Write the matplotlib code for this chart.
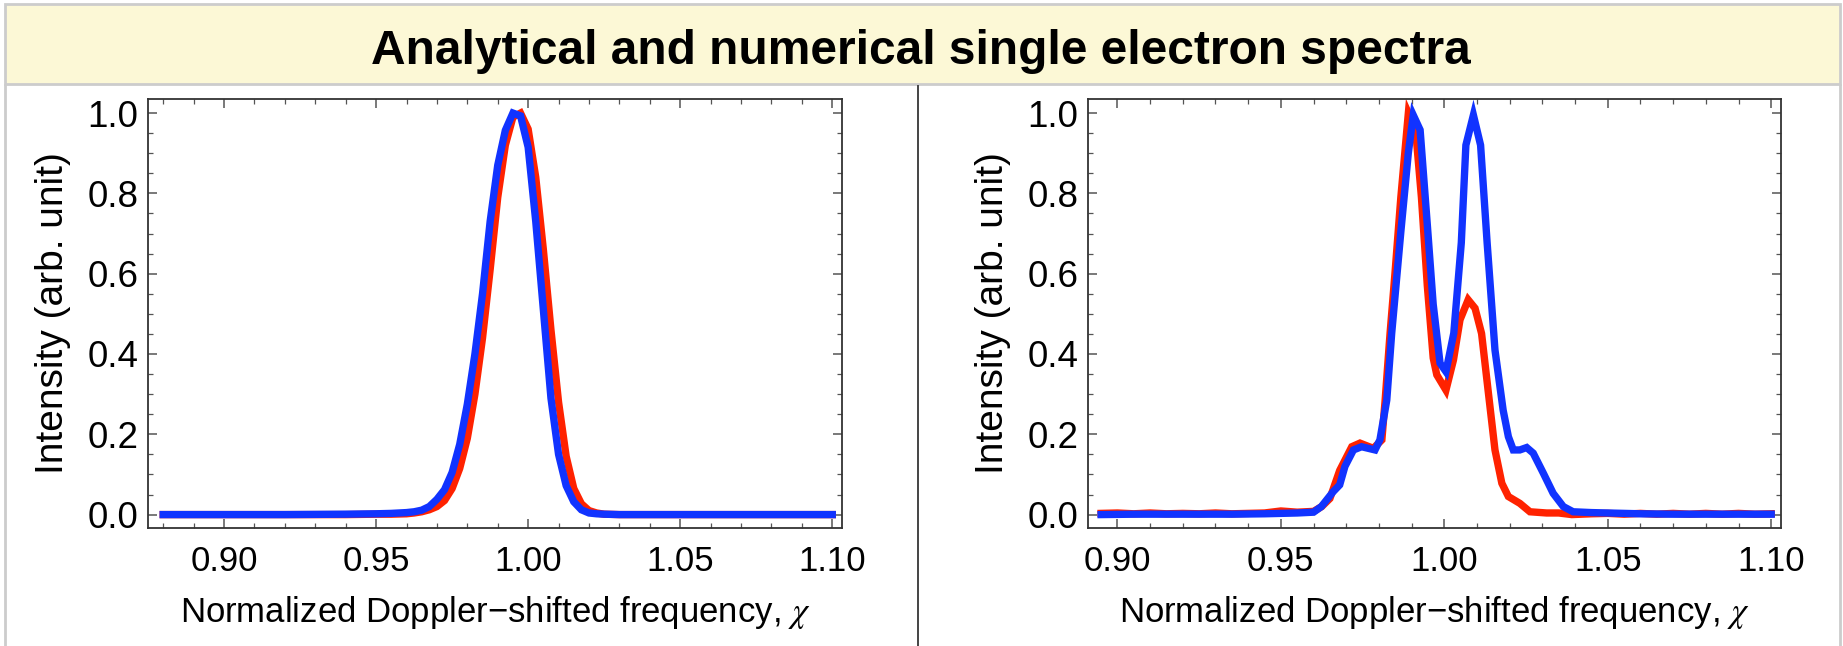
import numpy as np
import matplotlib
matplotlib.use("Agg")
import matplotlib.pyplot as plt
from matplotlib.patches import Rectangle
from matplotlib.lines import Line2D
from matplotlib.ticker import MultipleLocator, FormatStrFormatter

plt.rcParams['font.family'] = ['Liberation Sans', 'DejaVu Sans']
plt.rcParams['mathtext.fontset'] = 'stix'

# ---- left panel: single peak ----
left_x = [0.88, 0.90, 0.92, 0.94, 0.95, 0.955, 0.96, 0.9625, 0.965, 0.9675,
          0.97, 0.9725, 0.975, 0.9775, 0.98, 0.9825, 0.985, 0.9875, 0.99,
          0.9925, 0.995, 0.9975, 1.0, 1.0025, 1.005, 1.0075, 1.01, 1.0125,
          1.015, 1.0175, 1.02, 1.0225, 1.025, 1.03, 1.05, 1.07, 1.10]
left_red = [0.0, 0.0, 0.0, 0.0, 0.001, 0.001, 0.002, 0.004, 0.007, 0.012,
            0.02, 0.035, 0.065, 0.115, 0.19, 0.3, 0.44, 0.61, 0.79,
            0.92, 0.99, 1.0, 0.96, 0.84, 0.66, 0.46, 0.28, 0.145,
            0.065, 0.027, 0.01, 0.004, 0.001, 0.0, 0.0, 0.0, 0.0]
left_blue = [0.0, 0.0, 0.0, 0.001, 0.002, 0.003, 0.005, 0.007, 0.011, 0.02,
             0.038, 0.062, 0.105, 0.175, 0.275, 0.40, 0.55, 0.73, 0.87,
             0.957, 1.0, 0.993, 0.915, 0.73, 0.51, 0.29, 0.15, 0.072,
             0.032, 0.012, 0.004, 0.002, 0.001, 0.0, 0.0, 0.0, 0.0]

# ---- right panel: double peak ----
right_red_x = [0.895, 0.900, 0.905, 0.910, 0.915, 0.920, 0.925, 0.930, 0.935,
               0.940, 0.945, 0.950, 0.955, 0.960, 0.9625, 0.965, 0.968,
               0.9717, 0.9742, 0.9783, 0.9809, 0.9819, 0.9834, 0.9849, 0.9867,
               0.989, 0.9912, 0.993, 0.9948, 0.9966, 0.9977, 1.0005, 1.0028,
               1.0048, 1.0073, 1.0094, 1.0114, 1.0135, 1.0155, 1.0176, 1.0196,
               1.0231, 1.0262, 1.0313, 1.035, 1.039, 1.045, 1.05, 1.055, 1.06,
               1.065, 1.07, 1.075, 1.08, 1.085, 1.09, 1.095, 1.10]
right_red = [0.003, 0.004, 0.002, 0.004, 0.002, 0.003, 0.002, 0.004, 0.002,
             0.003, 0.004, 0.009, 0.006, 0.008, 0.02, 0.04, 0.11,
             0.169, 0.178, 0.165, 0.186, 0.285, 0.451, 0.6, 0.79,
             1.0, 0.96, 0.79, 0.57, 0.39, 0.348, 0.31, 0.385,
             0.485, 0.535, 0.514, 0.451, 0.302, 0.161, 0.078, 0.045,
             0.028, 0.007, 0.004, 0.004, 0.0, 0.002, 0.003, 0.001, 0.003,
             0.001, 0.003, 0.001, 0.003, 0.001, 0.003, 0.001, 0.002]

right_blue_x = [0.895, 0.905, 0.915, 0.925, 0.935, 0.945, 0.95, 0.955, 0.96,
                0.9624, 0.966, 0.968, 0.9696, 0.9722, 0.9747, 0.9788, 0.9803,
                0.9824, 0.9839, 0.9867, 0.989, 0.9905, 0.9926, 0.9948, 0.9966,
                0.9987, 1.0005, 1.0029, 1.0052, 1.0066, 1.0089, 1.0111, 1.0131,
                1.0155, 1.018, 1.0196, 1.0211, 1.0231, 1.0252, 1.0272, 1.0303,
                1.0333, 1.0364, 1.0394, 1.045, 1.05, 1.055, 1.06, 1.07, 1.08,
                1.09, 1.10]
right_blue = [0.0, 0.001, 0.001, 0.001, 0.001, 0.002, 0.003, 0.004, 0.006,
              0.02, 0.057, 0.074, 0.12, 0.161, 0.169, 0.161, 0.186,
              0.285, 0.451, 0.704, 0.901, 0.995, 0.958, 0.722, 0.524,
              0.377, 0.356, 0.452, 0.677, 0.92, 0.995, 0.92, 0.677,
              0.41, 0.26, 0.194, 0.161, 0.161, 0.167, 0.153, 0.103,
              0.053, 0.02, 0.007, 0.005, 0.004, 0.003, 0.002, 0.001, 0.001,
              0.001, 0.001]

title = "Analytical and numerical single electron spectra"
xlabel = "Normalized Doppler\u2212shifted frequency, $\\chi$"
ylabel = "Intensity (arb. unit)"

red = '#ff2200'
blue = '#1133ff'

W, H = 1843, 646
fig = plt.figure(figsize=(W / 100, H / 100), dpi=100)

def fx(px):
    return px / W

def fy(py):
    return 1 - py / H

# title band and panel frames
fig.patches.append(Rectangle((fx(5), fy(84)), fx(1840) - fx(5), fy(4) - fy(84),
                             transform=fig.transFigure, facecolor='#fcf8d6',
                             edgecolor='#cccccc', linewidth=2, zorder=0))
for xp in (5, 1840):
    fig.lines.append(Line2D([fx(xp), fx(xp)], [fy(85), 0], transform=fig.transFigure,
                            color='#cccccc', linewidth=2))
fig.lines.append(Line2D([fx(918), fx(918)], [fy(86), 0], transform=fig.transFigure,
                        color='#444444', linewidth=1.4))
fig.text(fx(921), fy(64), title, ha='center', va='baseline', fontsize=34.5,
         fontweight='bold', color='black')

axl = fig.add_axes([fx(148), fy(528), fx(842) - fx(148), fy(99) - fy(528)])
axr = fig.add_axes([fx(1088), fy(528), fx(1781) - fx(1088), fy(99) - fy(528)])

lw = 5.3
axl.plot(left_x, left_red, color=red, linewidth=lw, solid_joinstyle='miter')
axl.plot(left_x, left_blue, color=blue, linewidth=lw, solid_joinstyle='miter')
axl.set_xlim(0.875, 1.1032)

axr.plot(right_red_x, right_red, color=red, linewidth=lw, solid_joinstyle='miter')
axr.plot(right_blue_x, right_blue, color=blue, linewidth=lw, solid_joinstyle='miter')
axr.set_xlim(0.891, 1.103)

for ax in (axl, axr):
    ax.set_ylim(-0.0334, 1.035)
    ax.xaxis.set_major_locator(MultipleLocator(0.05))
    ax.xaxis.set_minor_locator(MultipleLocator(0.01))
    ax.yaxis.set_major_locator(MultipleLocator(0.2))
    ax.yaxis.set_minor_locator(MultipleLocator(0.05))
    ax.xaxis.set_major_formatter(FormatStrFormatter('%.2f'))
    ax.yaxis.set_major_formatter(FormatStrFormatter('%.1f'))
    ax.tick_params(which='both', direction='in', top=True, right=True,
                   color='#555555')
    ax.tick_params(axis='x', labelsize=25, pad=12)
    ax.tick_params(axis='y', labelsize=26.5, pad=7)
    ax.tick_params(which='major', length=6.5, width=1.1)
    ax.tick_params(which='minor', length=3.8, width=0.9)
    for s in ax.spines.values():
        s.set_color('#333333')
        s.set_linewidth(1.3)
    ax.set_xlabel(xlabel, fontsize=25, labelpad=12)
    ax.set_ylabel(ylabel, fontsize=28, labelpad=12)

fig.savefig('out.png', dpi=100, facecolor='white')
